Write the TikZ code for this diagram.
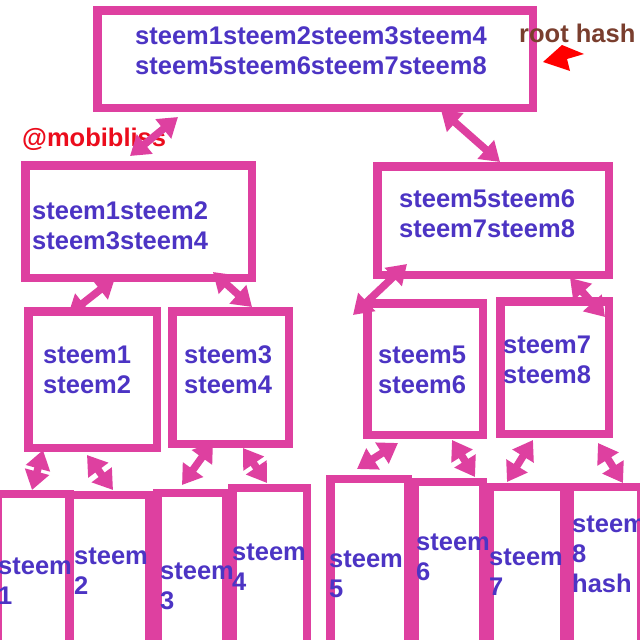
\documentclass[tikz,border=0pt]{standalone}
\usepackage{fontspec}
\setmainfont{Liberation Sans}
\usetikzlibrary{arrows.meta}
\definecolor{pinkc}{RGB}{222,64,160}
\definecolor{txtc}{RGB}{76,52,196}
\definecolor{brownc}{RGB}{122,62,46}
\definecolor{redc}{RGB}{235,12,28}
\begin{document}
\begin{tikzpicture}[x=1pt,y=-1pt,
  box/.style={draw=pinkc, line width=8.5pt, fill=white, inner sep=0pt},
  lbl/.style={text=txtc, font=\fontsize{25.5}{30}\selectfont\bfseries, align=left, anchor=north west, inner sep=0pt},
  dbl/.style={draw=pinkc, line width=7.5pt, {Triangle[length=19pt,width=24pt]}-{Triangle[length=19pt,width=24pt]}}]
\useasboundingbox (0,0) rectangle (640,640);
\fill[white] (0,0) rectangle (640,640);
\clip (0,0) rectangle (640,640);
% level 1
\node[box, minimum width=435.5pt, minimum height=97.5pt] (root) at (315,59) {};
% level 2
\node[box, minimum width=226.5pt, minimum height=112.5pt] (lA) at (138.5,221.5) {};
\node[box, minimum width=231.5pt, minimum height=108.5pt] (lB) at (493,220.5) {};
% level 3
\node[box, minimum width=128.5pt, minimum height=136.5pt] (m12) at (92.5,379.5) {};
\node[box, minimum width=116.5pt, minimum height=132.5pt] (m34) at (230.5,377.5) {};
\node[box, minimum width=115.5pt, minimum height=131.5pt] (m56) at (425,369) {};
\node[box, minimum width=108.5pt, minimum height=132.5pt] (m78) at (554.5,367.5) {};
% level 4
\node[box, minimum width=72.5pt, minimum height=205.75pt] (b1) at (33.5,597.1) {};
\node[box, minimum width=79.5pt, minimum height=204.75pt] (b2) at (109,597.6) {};
\node[box, minimum width=68.5pt, minimum height=206.75pt] (b3) at (191.5,596.6) {};
\node[box, minimum width=74.5pt, minimum height=211.75pt] (b4) at (269.5,594.1) {};
\node[box, minimum width=77.5pt, minimum height=220.75pt] (b5) at (369,589.6) {};
\node[box, minimum width=68.5pt, minimum height=217.75pt] (b6) at (448.5,591.1) {};
\node[box, minimum width=74.5pt, minimum height=212.75pt] (b7) at (526.5,593.6) {};
\node[box, minimum width=71.5pt, minimum height=212.75pt] (b8) at (605,593.6) {};
% texts
\node[lbl] (troot) at (135,26) {steem1steem2steem3steem4\\steem5steem6steem7steem8};
\node[lbl] (tA) at (32,201) {steem1steem2\\steem3steem4};
\node[lbl] (tB) at (399,189) {steem5steem6\\steem7steem8};
\node[lbl] (t12) at (43,346) {steem1\\steem2};
\node[lbl] (t34) at (184,345) {steem3\\steem4};
\node[lbl] (t56) at (378,346) {steem5\\steem6};
\node[lbl] (t78) at (503,336) {steem7\\steem8};
\node[lbl] (t1) at (-2,558) {steem\\1};
\node[lbl] (t2) at (74,548) {steem\\2};
\node[lbl] (t3) at (160,563) {steem\\3};
\node[lbl] (t4) at (232,544) {steem\\4};
\node[lbl] (t5) at (329,551) {steem\\5};
\node[lbl] (t6) at (416,534) {steem\\6};
\node[lbl] (t7) at (489,549) {steem\\7};
\node[lbl] (t8) at (572,516) {steem\\8\\hash};
\node[text=brownc, font=\fontsize{25.5}{30}\selectfont\bfseries, anchor=base west, inner sep=0pt] (rh) at (519,42) {root hash};
\node[text=redc, font=\fontsize{25.5}{30}\selectfont\bfseries, anchor=base west, inner sep=0pt] (mob) at (22,146) {@mobibliss};
% red pointer
\fill[red] (543,62) -- (562,45) -- (584,54) -- (567,59) -- (570,71) -- cycle;
% arrow end points
\coordinate (a1s) at (178,117); \coordinate (a1e) at (130,156);
\coordinate (a2s) at (441,110); \coordinate (a2e) at (500,162);
\coordinate (a3s) at (115,278); \coordinate (a3e) at (68,315);
\coordinate (a4s) at (213,272); \coordinate (a4e) at (252,307);
\coordinate (a5s) at (407,264); \coordinate (a5e) at (353,315);
\coordinate (a6s) at (570,278); \coordinate (a6e) at (605,317);
\coordinate (a7s) at (43,450); \coordinate (a7e) at (32,490);
\coordinate (a8s) at (87,455); \coordinate (a8e) at (113,490);
\coordinate (a9s) at (213,442); \coordinate (a9e) at (182,485);
\coordinate (a10s) at (243,448); \coordinate (a10e) at (267,483);
\coordinate (a11s) at (398,443); \coordinate (a11e) at (357,469);
\coordinate (a12s) at (452,440); \coordinate (a12e) at (475,477);
\coordinate (a13s) at (533,440); \coordinate (a13e) at (507,482);
\coordinate (a14s) at (598,443); \coordinate (a14e) at (623,483);
\foreach \i in {1,...,14} { \draw[dbl] (a\i s) -- (a\i e); }
\end{tikzpicture}
\end{document}
